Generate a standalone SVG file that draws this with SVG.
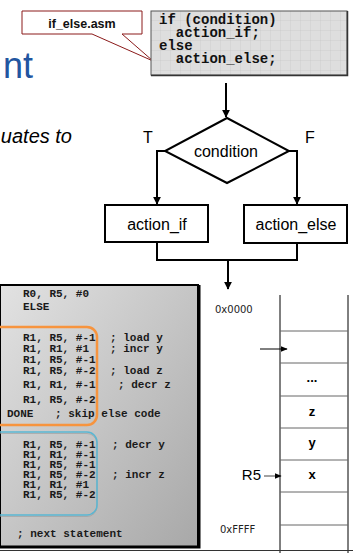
<svg xmlns="http://www.w3.org/2000/svg" width="353" height="553" viewBox="0 0 353 553">
<defs>
<pattern id="grid" width="10" height="10" patternUnits="userSpaceOnUse" x="151" y="11">
<rect width="10" height="10" fill="#dedede"/>
<path d="M10,0V10M0,10H10" stroke="#c6c6c6" stroke-width="0.7" fill="none"/>
</pattern>
<linearGradient id="codeg" x1="0" y1="0" x2="1" y2="1">
<stop offset="0" stop-color="#e2e2e2"/>
<stop offset="1" stop-color="#a8a8a8"/>
</linearGradient>
<marker id="ah" viewBox="0 0 10 10" refX="9" refY="5" markerWidth="4" markerHeight="4" orient="auto" markerUnits="strokeWidth">
<path d="M0,0L10,5L0,10Z" fill="#000"/>
</marker>
<marker id="ahs" viewBox="0 0 10 10" refX="9" refY="5" markerWidth="7" markerHeight="7" orient="auto" markerUnits="strokeWidth">
<path d="M0,1L10,5L0,9Z" fill="#000"/>
</marker>
</defs>
<style>
.ln{stroke:#000;stroke-width:2;fill:none}
.box{stroke:#000;stroke-width:2;fill:#fff}
.lbl{font-family:"Liberation Sans",Arial,sans-serif;font-size:16px;fill:#000}
.code{font-family:"Liberation Mono","Courier New",monospace;font-weight:bold;font-size:11px;fill:#1a1a1a}
.tcode{font-family:"Liberation Mono","Courier New",monospace;font-weight:bold;font-size:14px;fill:#111}
.mem{font-family:"DejaVu Sans",sans-serif;font-size:10px;fill:#222}
.cell{font-family:"Liberation Sans",Arial,sans-serif;font-weight:bold;font-size:13px;fill:#000;text-anchor:middle}
</style>

<text id="title" x="33" y="78" text-anchor="end" font-family="Liberation Sans,Arial,sans-serif" font-size="36" fill="#2255a0">nt</text>
<text id="subtitle" x="72" y="143" text-anchor="end" font-family="Liberation Sans,Arial,sans-serif" font-style="italic" font-size="20" fill="#000">uates to</text>

<g id="callout">
<path d="M22,11H142V34H122L153,61L92,34H22Z" fill="#fff" stroke="#8b1a1a" stroke-width="1"/>
<text x="82" y="28" text-anchor="middle" font-family="Liberation Sans,Arial,sans-serif" font-weight="bold" font-size="12.5" fill="#111">if_else.asm</text>
</g>

<g id="source">
<rect x="151" y="11" width="196" height="64" fill="url(#grid)" stroke="#555" stroke-width="1"/>
<path d="M151,75.5H347.5V11" fill="none" stroke="#333" stroke-width="1.5"/>
<text class="tcode" x="159" y="24" xml:space="preserve">if (condition)</text>
<text class="tcode" x="159" y="37" xml:space="preserve">  action_if;</text>
<text class="tcode" x="159" y="50" xml:space="preserve">else</text>
<text class="tcode" x="159" y="63" xml:space="preserve">  action_else;</text>
</g>

<g id="condition">
<polygon points="227,118 289,151 227,183 165,151" class="box"/>
<text class="lbl" x="226" y="157" text-anchor="middle">condition</text>
</g>
<g id="action_if">
<rect x="105" y="205" width="103" height="37" class="box"/>
<text class="lbl" x="157" y="230" text-anchor="middle">action_if</text>
</g>
<g id="action_else">
<rect x="244" y="205" width="103" height="38" class="box"/>
<text class="lbl" x="296" y="230" text-anchor="middle">action_else</text>
</g>

<g id="connectors">
<line x1="226" y1="83" x2="226" y2="117" class="ln" marker-end="url(#ah)"/>
<polyline points="165,151 157,151 157,204" class="ln" marker-end="url(#ah)"/>
<polyline points="289,151 297,151 297,204" class="ln" marker-end="url(#ah)"/>
<polyline points="157,242 157,260 297,260 297,243" class="ln"/>
<line x1="228" y1="260" x2="228" y2="289" class="ln" marker-end="url(#ah)"/>
<text class="lbl" x="143" y="143" font-size="15">T</text>
<text class="lbl" x="305" y="143" font-size="15">F</text>
</g>

<g id="code">
<rect x="0" y="285" width="198" height="262" fill="url(#codeg)" stroke="#000" stroke-width="2"/>
<path d="M0,547H199V285" fill="none" stroke="#000" stroke-width="3"/>
<rect x="-10" y="327" width="107" height="98" rx="10" fill="none" stroke="#f7943e" stroke-width="2.5"/>
<rect x="-10" y="433.5" width="107" height="83" rx="10" fill="none" stroke="#9a9a9a" stroke-width="1" opacity="0.6"/>
<rect x="-10" y="432" width="107" height="83" rx="10" fill="none" stroke="#5ab6d2" stroke-width="1.5"/>
<text class="code" x="23" y="297">R0, R5, #0</text>
<text class="code" x="23" y="310">ELSE</text>
<text class="code" x="23" y="341">R1, R5, #-1</text><text class="code" x="110" y="341">; load y</text>
<text class="code" x="23" y="352">R1, R1, #1</text><text class="code" x="110" y="352">; incr y</text>
<text class="code" x="23" y="363">R1, R5, #-1</text>
<text class="code" x="23" y="374">R1, R5, #-2</text><text class="code" x="110" y="374">; load z</text>
<text class="code" x="23" y="388">R1, R1, #-1</text><text class="code" x="118" y="388">; decr z</text>
<text class="code" x="23" y="403">R1, R5, #-2</text>
<text class="code" x="7" y="417">DONE</text><text class="code" x="55" y="417">; skip else code</text>
<text class="code" x="23" y="448">R1, R5, #-1</text><text class="code" x="112" y="448">; decr y</text>
<text class="code" x="23" y="458">R1, R1, #-1</text>
<text class="code" x="23" y="468">R1, R5, #-1</text>
<text class="code" x="23" y="478">R1, R5, #-2</text><text class="code" x="112" y="478">; incr z</text>
<text class="code" x="23" y="488">R1, R1, #1</text>
<text class="code" x="23" y="498">R1, R5, #-2</text>
<text class="code" x="17" y="537">; next statement</text>
</g>

<g id="memory">
<line x1="280" y1="295" x2="280" y2="553" stroke="#000" stroke-width="1"/>
<line x1="348" y1="295" x2="348" y2="553" stroke="#000" stroke-width="1"/>
<g stroke="#666" stroke-width="1">
<line x1="280" y1="331" x2="348" y2="331"/>
<line x1="280" y1="363" x2="348" y2="363"/>
<line x1="280" y1="396" x2="348" y2="396"/>
<line x1="280" y1="428" x2="348" y2="428"/>
<line x1="280" y1="460" x2="348" y2="460"/>
<line x1="280" y1="492" x2="348" y2="492"/>
<line x1="280" y1="525" x2="348" y2="525"/>
</g>
<text class="mem" x="215" y="313">0x0000</text>
<text class="mem" x="220" y="533">0xFFFF</text>
<text class="cell" x="312" y="382">...</text>
<text class="cell" x="312" y="416">z</text>
<text class="cell" x="312" y="447">y</text>
<text class="cell" x="312" y="479">x</text>
<text x="261" y="480" text-anchor="end" font-family="Liberation Sans,Arial,sans-serif" font-size="15" fill="#000">R5</text>
<line x1="264" y1="476" x2="281" y2="476" stroke="#444" stroke-width="1" marker-end="url(#ahs)"/>
<line x1="260" y1="349" x2="287" y2="349" stroke="#000" stroke-width="1" marker-end="url(#ahs)"/>
</g>
<line x1="0" y1="550.5" x2="353" y2="550.5" stroke="#333" stroke-width="1"/>
</svg>
